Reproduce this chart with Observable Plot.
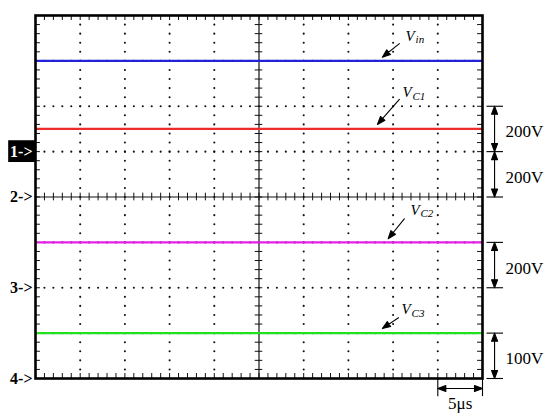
<!DOCTYPE html>
<html><head><meta charset="utf-8">
<script src="https://cdn.jsdelivr.net/npm/d3@7"></script>
<script src="https://cdn.jsdelivr.net/npm/@observablehq/plot@0.6"></script>
<style>body{margin:0;background:#fff} svg text{font-family:"Liberation Serif","Times New Roman","DejaVu Serif",serif !important;}</style>
</head><body><div id="chart"></div>
<script>
// ---- data (in oscilloscope divisions) ----
const traceNames = ["Vin", "VC1", "VC2", "VC3"];
const traceMain = ["V", "V", "V", "V"];
const traceSubs = ["in", "C1", "C2", "C3"];
const traceLevels = [3, 1.5, -1, -3];
const traceColors = ["#2222d8", "#ee2b2b", "#e620e6", "#22e022"];
const channelNames = ["1->", "2->", "3->", "4->"];
const channelLevels = [1, 0, -2, -4];
const scaleLabels = ["200V", "200V", "200V", "100V"];
const scaleFrom = [2, 1, -1, -3];
const scaleTo = [1, 0, -2, -4];
const timeLabel = "5μs";
const timeFrom = 9, timeTo = 10;
// annotation arrows: tail -> tip, and label anchor
const annTailX = [8.14, 8.14, 8.25, 8.12];
const annTailY = [3.38, 2.15, -0.48, -2.66];
const annTipX = [7.76, 7.65, 7.89, 7.76];
const annTipY = [3.08, 1.60, -0.92, -2.90];
const annLabelX = [8.28, 8.21, 8.39, 8.19];
const annLabelY = [3.55, 2.31, -0.28, -2.48];

// ---- layout ----
const W = 550, H = 420, ML = 35, MR = 68, MT = 15, MB = 42;
const kx = (W - ML - MR) / 10, ky = (H - MT - MB) / 8;
const serif = "'Liberation Serif', 'Times New Roman', serif";

const traces = traceNames.map((n, i) => ({name: n, level: traceLevels[i], color: traceColors[i]}));
const channels = channelNames.map((n, i) => ({name: n, level: channelLevels[i], first: i === 0}));
const scales = scaleLabels.map((l, i) => ({label: l, from: scaleFrom[i], to: scaleTo[i]}));
const anns = traceNames.map((n, i) => ({
  main: traceMain[i], sub: traceSubs[i],
  x1: annTailX[i], y1: annTailY[i], x2: annTipX[i], y2: annTipY[i],
  lx: annLabelX[i], ly: annLabelY[i]
}));

const minorX = d3.range(0, 50.5).map(d => d / 5);
const minorY = d3.range(-20, 20.5).map(d => d / 5);
const gridX = [1, 2, 3, 4, 6, 7, 8, 9];
const gridY = [-3, -2, -1, 1, 2, 3];
const dots = [
  ...d3.cross(gridX, minorY.filter(y => y > -4 && y < 4)).map(([x, y]) => ({x, y})),
  ...d3.cross(minorX.filter(x => x > 0 && x < 10), gridY).map(([x, y]) => ({x, y}))
];
const barEnds = Array.from(new Set([...scaleFrom, ...scaleTo]));

function arrowShape(both) {
  const hl = 8, hw = 3;
  return {
    draw(ctx, l) {
      ctx.moveTo(0, 0); ctx.lineTo(0, -l);
      ctx.moveTo(0, -l); ctx.lineTo(hw, -l + hl); ctx.lineTo(-hw, -l + hl); ctx.closePath();
      if (both) { ctx.moveTo(0, 0); ctx.lineTo(hw, -hl); ctx.lineTo(-hw, -hl); ctx.closePath(); }
    }
  };
}
function arrowMark(x1, y1, x2, y2, both) {
  const sx = (x2 - x1) * kx, sy = -(y2 - y1) * ky;
  return Plot.vector([{x: x1, y: y1}], {
    x: "x", y: "y", anchor: "start",
    length: Math.hypot(sx, sy), rotate: Math.atan2(sx, -sy) * 180 / Math.PI,
    shape: arrowShape(both), fill: "black", stroke: "black", strokeWidth: 1.1
  });
}

const chart = Plot.plot({
  width: W, height: H,
  marginLeft: ML, marginRight: MR, marginTop: MT, marginBottom: MB,
  x: {domain: [0, 10], axis: null},
  y: {domain: [-4, 4], axis: null},
  style: {background: "white", fontFamily: serif},
  marks: [
    // dotted graticule
    Plot.dot(dots, {x: "x", y: "y", r: 1.05, fill: "#111", stroke: null}),
    // center cross with minor ticks
    Plot.ruleX([5], {stroke: "#111", strokeWidth: 1.2}),
    Plot.ruleY([0], {stroke: "#111", strokeWidth: 1.2}),
    Plot.ruleX(minorX, {x: d => d, y1: -0.085, y2: 0.085, stroke: "#111", strokeWidth: 1}),
    Plot.ruleY(minorY, {y: d => d, x1: 4.915, x2: 5.085, stroke: "#111", strokeWidth: 1}),
    // border ticks
    Plot.ruleX(minorX, {x: d => d, y1: 4, y2: 3.89, stroke: "#111", strokeWidth: 1}),
    Plot.ruleX(minorX, {x: d => d, y1: -4, y2: -3.89, stroke: "#111", strokeWidth: 1}),
    Plot.ruleY(minorY, {y: d => d, x1: 0, x2: 0.11, stroke: "#111", strokeWidth: 1}),
    Plot.ruleY(minorY, {y: d => d, x1: 10, x2: 9.89, stroke: "#111", strokeWidth: 1}),
    // traces
    Plot.ruleY(traces, {y: "level", x1: 0, x2: 10, stroke: "color", strokeWidth: 2.3}),
    // frame
    Plot.frame({stroke: "black", strokeWidth: 2.6}),
    // channel markers
    Plot.rect(channels.filter(d => d.first), {x1: -0.6, x2: 0, y1: d => d.level - 0.24, y2: d => d.level + 0.24, fill: "black"}),
    Plot.text(channels, {x: 0, y: "level", text: "name", dx: -3, textAnchor: "end",
      fill: d => d.first ? "white" : "black", fontFamily: serif, fontWeight: "bold", fontSize: 16}),
    // trace annotations
    ...anns.map(a => arrowMark(a.x1, a.y1, a.x2, a.y2, false)),
    Plot.text(anns, {x: "lx", y: "ly", text: "main", textAnchor: "start", fontFamily: serif, fontStyle: "italic", fontSize: 15, fill: "black"}),
    Plot.text(anns, {x: "lx", y: "ly", text: "sub", textAnchor: "start", dx: 10, dy: 4, fontFamily: serif, fontStyle: "italic", fontSize: 11, fill: "black"}),
    // voltage scale bars
    Plot.ruleY(barEnds, {y: d => d, x1: 10.1, x2: 10.47, stroke: "black", strokeWidth: 1.1}),
    ...scales.map(s => arrowMark(10.27, s.from, 10.27, s.to, true)),
    Plot.text(scales, {x: 10, y: d => (d.from + d.to) / 2, text: "label", dx: 23, dy: 3, textAnchor: "start", fontFamily: serif, fontSize: 17, fill: "black"}),
    // time scale bar
    Plot.ruleX([timeFrom, timeTo], {x: d => d, y1: -4, y2: -4.4, stroke: "black", strokeWidth: 1.1}),
    arrowMark(timeFrom, -4.22, timeTo, -4.22, true),
    Plot.text([timeLabel], {x: (timeFrom + timeTo) / 2, y: -4.55, text: d => d, fontFamily: serif, fontSize: 17, fill: "black"})
  ]
});
document.getElementById("chart").appendChild(chart);
</script>
</body></html>
